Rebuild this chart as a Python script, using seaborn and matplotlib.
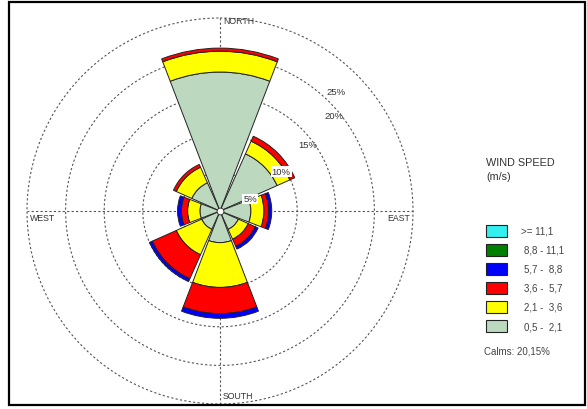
import numpy as np
import matplotlib
matplotlib.use("Agg")
import matplotlib.pyplot as plt
from matplotlib.patches import Rectangle
import seaborn as sns

# Wind direction sectors (degrees clockwise from north)
directions = ["N", "NE", "E", "SE", "S", "SW", "W", "NW"]
direction_deg = [0, 45, 90, 135, 180, 225, 270, 315]

# Frequency (%) per direction for each wind speed class (m/s)
freq_05_21 = [18.0, 8.1, 4.0, 2.6, 4.1, 2.6, 2.6, 4.0]
freq_21_36 = [2.7, 1.8, 1.7, 1.4, 5.8, 3.6, 1.6, 2.2]
freq_36_57 = [0.4, 0.7, 0.6, 1.0, 3.4, 3.4, 0.8, 0.4]
freq_57_88 = [0.0, 0.0, 0.4, 0.4, 0.6, 0.4, 0.5, 0.0]
freq_88_111 = [0.0, 0.0, 0.0, 0.0, 0.0, 0.0, 0.0, 0.0]
freq_ge_111 = [0.0, 0.0, 0.0, 0.0, 0.0, 0.0, 0.0, 0.0]

speed_labels = ["0,5 -  2,1", "2,1 -  3,6", "3,6 -  5,7", "5,7 -  8,8", "8,8 - 11,1", ">= 11,1"]
speed_colors = ["#bcd9c0", "#ffff00", "#ff0000", "#0000ff", "#008000", "#33f0f0"]
calms_pct = 20.15

ring_levels = [5, 10, 15, 20, 25]
ring_labels = ["5%", "10%", "15%", "20%", "25%"]

sns.set_style("white")
plt.rcParams["font.family"] = ["Liberation Sans", "DejaVu Sans"]

W, H = 587, 410
fig = plt.figure(figsize=(W / 100, H / 100), dpi=100)
fig.patch.set_facecolor("white")


def px(x, y):
    """Pixel position (from top-left) to figure fraction."""
    return x / W, 1 - y / H


# Polar axes: centre at (220, 212) px, 25 % ring at 193 px
cx, cy, rpx = 220, 212, 193
ax = fig.add_axes([(cx - rpx) / W, (H - cy - rpx) / H, 2 * rpx / W, 2 * rpx / H],
                  projection="polar")
ax.set_theta_zero_location("N")
ax.set_theta_direction(-1)
ax.set_ylim(0, 25)
ax.grid(False)
ax.set_xticks([])
ax.set_yticks([])
ax.spines["polar"].set_visible(False)
ax.patch.set_alpha(0)

grid_kw = dict(color="#555555", lw=0.8, linestyle=(0, (2, 2)), zorder=1, clip_on=False)
tt = np.linspace(0, 2 * np.pi, 400)
for lvl in ring_levels:
    ax.plot(tt, np.full_like(tt, lvl), **grid_kw)
for ang in [0, 90, 180, 270]:
    ax.plot([np.deg2rad(ang)] * 2, [0, 25], **grid_kw)

# Stacked petals
theta = np.deg2rad(direction_deg)
width = np.deg2rad(42)
classes = [freq_05_21, freq_21_36, freq_36_57, freq_57_88, freq_88_111, freq_ge_111]
bottom = np.zeros(len(directions))
for vals, col in zip(classes, speed_colors):
    vals = np.asarray(vals, dtype=float)
    mask = vals > 0
    ax.bar(theta[mask], vals[mask], width=width, bottom=bottom[mask], color=col,
           edgecolor="#222222", linewidth=0.7, zorder=3)
    bottom += vals

# Centre marker
ax.scatter([0], [0], s=24, color="white", edgecolor="#222222", linewidth=0.6, zorder=5)

# Ring percentage labels (angle from north, radius in %)
label_pos = [(68, 4.2), (57, 9.45), (53, 14.3), (50, 19.3), (44, 21.6)]
for (ang, r), txt in zip(label_pos, ring_labels):
    boxed = txt in ("5%", "10%")
    ax.text(np.deg2rad(ang), r, txt, fontsize=6.8, color="#333333", ha="center", va="center",
            zorder=6,
            bbox=dict(facecolor="white", edgecolor="none", pad=0.6) if boxed else None)

# Compass labels
fig.text(*px(223, 22), "NORTH", fontsize=6.3, color="#333333", ha="left", va="center")
fig.text(*px(223, 397), "SOUTH", fontsize=6.3, color="#333333", ha="left", va="center")
fig.text(*px(30, 219), "WEST", fontsize=6.3, color="#333333", ha="left", va="center")
fig.text(*px(410, 219), "EAST", fontsize=6.3, color="#333333", ha="right", va="center")

# Legend
fig.text(*px(486, 163), "WIND SPEED", fontsize=7.8, color="#333333", ha="left", va="center")
fig.text(*px(486, 177), "(m/s)", fontsize=7.8, color="#333333", ha="left", va="center")
sw_top = [226, 245, 264, 283, 302, 321]
for i, (lab, col) in enumerate(zip(speed_labels[::-1], speed_colors[::-1])):
    y0 = sw_top[i]
    x0f, y0f = px(486, y0 + 12)
    fig.add_artist(Rectangle((x0f, y0f), 21 / W, 12 / H, transform=fig.transFigure,
                             facecolor=col, edgecolor="#222222", linewidth=0.8))
    tx = 521 if lab.startswith(">=") else 524
    fig.text(*px(tx, y0 + 6), lab, fontsize=7.0, color="#444444", ha="left", va="center")
fig.text(*px(484, 352), f"Calms: {calms_pct:.2f}%".replace(".", ","), fontsize=7.0,
         color="#444444", ha="left", va="center")

# Outer frame
fx0, fy0 = px(9, 406)
fig.add_artist(Rectangle((fx0, fy0), (585 - 9) / W, (406 - 3) / H, transform=fig.transFigure,
                         facecolor="none", edgecolor="black", linewidth=1.6))

fig.savefig("out.png", dpi=100)
